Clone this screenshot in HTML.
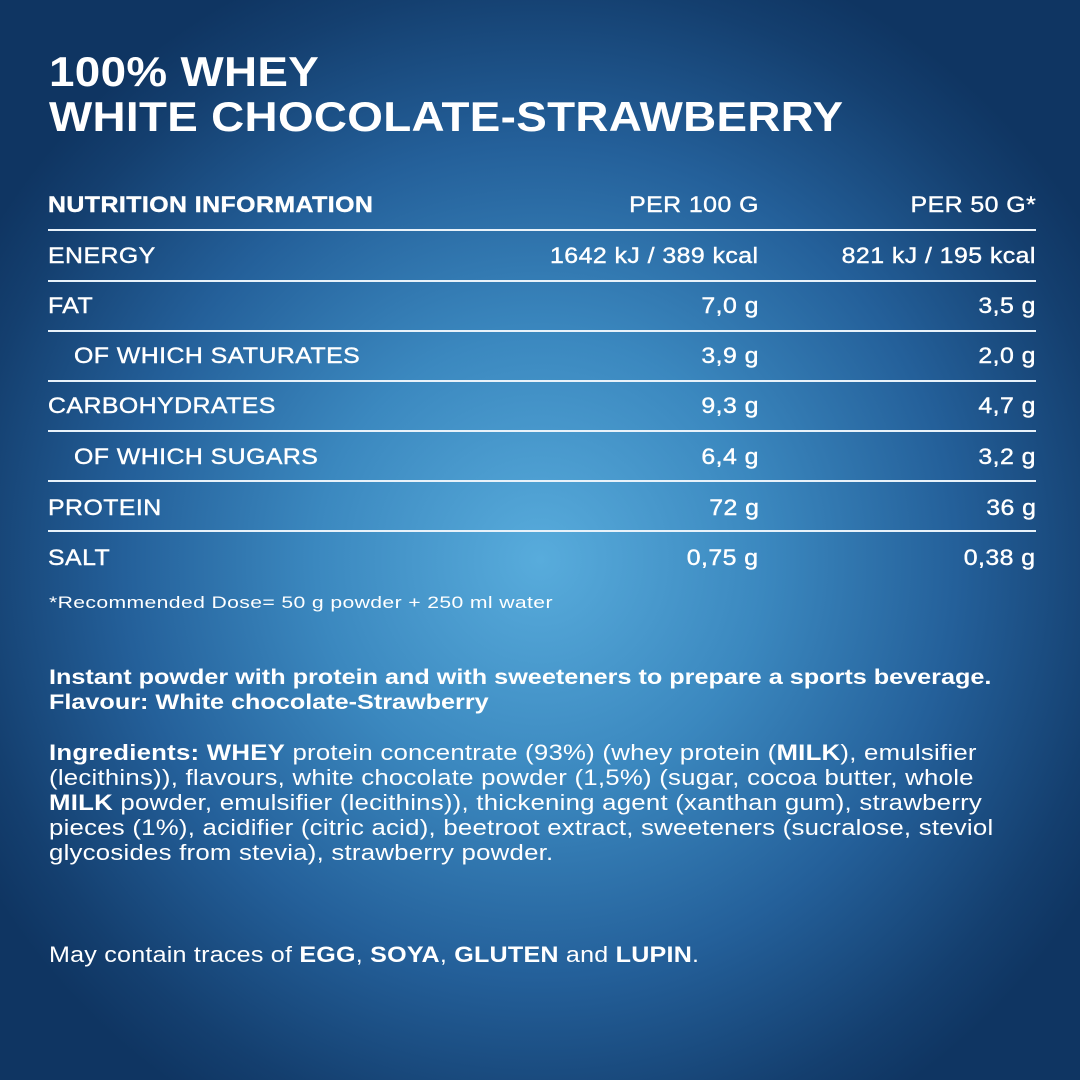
<!DOCTYPE html>
<html><head><meta charset="utf-8"><style>
html,body{margin:0;padding:0}
body{width:1080px;height:1080px;overflow:hidden;position:relative;font-family:"Liberation Sans",sans-serif;color:#fff;
background:radial-gradient(ellipse 640px 640px at 540px 560px,#58acdc 0%,#3b88bf 35%,#24609a 65%,#143f6f 90%,#0f3562 100%);}
.t{position:absolute;left:49px;font-weight:bold;font-size:42px;letter-spacing:0.3px;white-space:nowrap;transform:scaleX(1.09);transform-origin:left}
.r{position:absolute;left:48px;width:988px;height:50px;font-size:22px;font-weight:normal;letter-spacing:0.4px;-webkit-text-stroke:0.4px #fff}
.r span{position:absolute;top:0;white-space:nowrap;transform:scaleX(1.13)}
.a{left:0}.b{right:277px}.c{right:0}
.r span.a{transform-origin:left}.r span.b,.r span.c{transform-origin:right}
.ln{position:absolute;left:48px;width:988px;height:2px;background:#e8f2fa}
.p{position:absolute;left:49px;white-space:nowrap;line-height:25px;transform-origin:left}
b{font-weight:bold}
</style></head><body>
<div class="t" style="top:48px">100% WHEY</div>
<div class="t" style="top:93px">WHITE CHOCOLATE-STRAWBERRY</div>

<div class="r" style="top:192px;font-weight:bold"><span class="a">NUTRITION INFORMATION</span><span class="b" style="font-weight:normal">PER 100 G</span><span class="c" style="font-weight:normal">PER 50 G*</span></div>
<div class="ln" style="top:229px"></div>
<div class="r" style="top:243px"><span class="a">ENERGY</span><span class="b">1642 kJ / 389 kcal</span><span class="c">821 kJ / 195 kcal</span></div>
<div class="ln" style="top:280px"></div>
<div class="r" style="top:293px"><span class="a">FAT</span><span class="b">7,0 g</span><span class="c">3,5 g</span></div>
<div class="ln" style="top:330px"></div>
<div class="r" style="top:343px"><span class="a" style="left:26px">OF WHICH SATURATES</span><span class="b">3,9 g</span><span class="c">2,0 g</span></div>
<div class="ln" style="top:380px"></div>
<div class="r" style="top:393px"><span class="a">CARBOHYDRATES</span><span class="b">9,3 g</span><span class="c">4,7 g</span></div>
<div class="ln" style="top:430px"></div>
<div class="r" style="top:444px"><span class="a" style="left:26px">OF WHICH SUGARS</span><span class="b">6,4 g</span><span class="c">3,2 g</span></div>
<div class="ln" style="top:480px"></div>
<div class="r" style="top:495px"><span class="a">PROTEIN</span><span class="b">72 g</span><span class="c">36 g</span></div>
<div class="ln" style="top:530px"></div>
<div class="r" style="top:545px"><span class="a">SALT</span><span class="b">0,75 g</span><span class="c">0,38 g</span></div>

<div class="p" style="top:590px;font-size:17px;letter-spacing:0.3px;transform:scaleX(1.245)">*Recommended Dose= 50 g powder + 250 ml water</div>

<div class="p" style="top:665px;font-weight:bold;font-size:21px;transform:scaleX(1.2)">Instant powder with protein and with sweeteners to prepare a sports beverage.<br>Flavour: White chocolate-Strawberry</div>

<div class="p" style="top:740px;font-size:22px;letter-spacing:0.2px;transform:scaleX(1.172)"><b>Ingredients: WHEY</b> protein concentrate (93%) (whey protein (<b>MILK</b>), emulsifier<br>(lecithins)), flavours, white chocolate powder (1,5%) (sugar, cocoa butter, whole<br><b>MILK</b> powder, emulsifier (lecithins)), thickening agent (xanthan gum), strawberry<br>pieces (1%), acidifier (citric acid), beetroot extract, sweeteners (sucralose, steviol<br>glycosides from stevia), strawberry powder.</div>

<div class="p" style="top:942px;font-size:22px;letter-spacing:0.2px;transform:scaleX(1.14)">May contain traces of <b>EGG</b>, <b>SOYA</b>, <b>GLUTEN</b> and <b>LUPIN</b>.</div>
</body></html>
